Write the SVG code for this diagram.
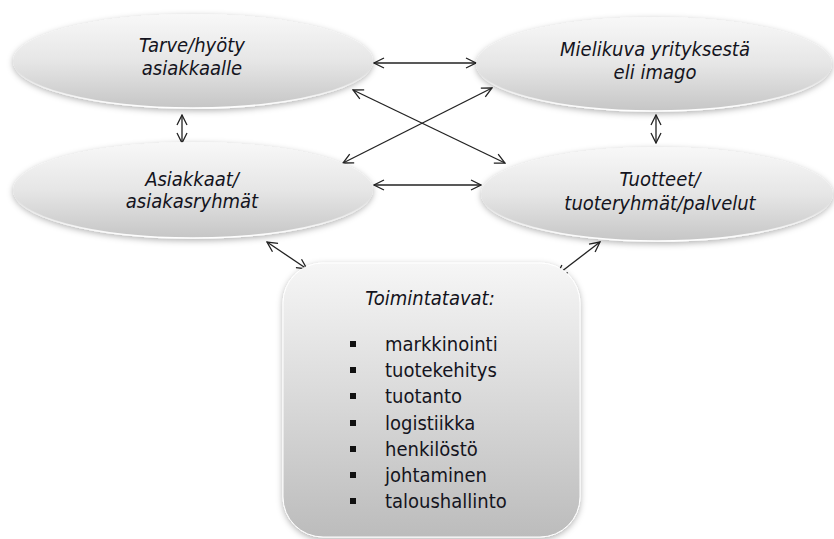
<svg xmlns="http://www.w3.org/2000/svg" width="834" height="539" viewBox="0 0 834 539">
<style>
.t{font-family:"DejaVu Sans Condensed","DejaVu Sans",sans-serif;font-size:20px;fill:#141420}
.i{font-style:italic;text-anchor:middle}
.ell{fill:url(#gEll);stroke:url(#gRim);stroke-width:1.5;filter:url(#sh)}
.box{fill:url(#gBox);stroke:#ffffff;stroke-width:1;filter:url(#sh)}
.c{fill:none;stroke:#222;stroke-width:1.3;marker-start:url(#ah);marker-end:url(#ah)}
.b{fill:#111}
</style>
<defs>
<linearGradient id="gEll" x1="0" y1="0" x2="0" y2="1">
<stop offset="0" stop-color="#f8f8f8"/>
<stop offset="0.5" stop-color="#e6e6e6"/>
<stop offset="1" stop-color="#c6c6c6"/>
</linearGradient>
<linearGradient id="gRim" x1="0" y1="0" x2="0" y2="1">
<stop offset="0" stop-color="#ffffff" stop-opacity="0"/>
<stop offset="0.6" stop-color="#ffffff" stop-opacity="0"/>
<stop offset="1" stop-color="#ffffff" stop-opacity="1"/>
</linearGradient>
<linearGradient id="gBox" x1="0" y1="0" x2="0" y2="1">
<stop offset="0" stop-color="#f6f6f6"/>
<stop offset="1" stop-color="#bcbcbc"/>
</linearGradient>
<filter id="sh" x="-10%" y="-20%" width="120%" height="140%">
<feDropShadow dx="0" dy="2" stdDeviation="3" flood-color="#000" flood-opacity="0.3"/>
</filter>
<marker id="ah" viewBox="0 0 12 12" refX="11" refY="6" markerWidth="12" markerHeight="12" markerUnits="userSpaceOnUse" orient="auto-start-reverse">
<path d="M1,1 L11,6 L1,11" fill="none" stroke="#222" stroke-width="1.3"/>
</marker>
</defs>
<g id="connectors">
<line class="c" x1="374" y1="63" x2="476" y2="63"/>
<line class="c" x1="374" y1="185" x2="481" y2="185"/>
<line class="c" x1="353" y1="90" x2="505" y2="163"/>
<line class="c" x1="343" y1="163" x2="492" y2="88"/>
<line class="c" x1="182" y1="115" x2="182" y2="143"/>
<line class="c" x1="656" y1="115" x2="656" y2="143"/>
<line class="c" x1="267" y1="242" x2="307" y2="269"/>
<line class="c" x1="600" y1="242" x2="557" y2="275"/>
</g>
<g id="tarve">
<ellipse class="ell" cx="193" cy="61" rx="180" ry="47"/>
<text class="t i" x="192" y="52">Tarve/hyöty</text>
<text class="t i" x="192" y="75">asiakkaalle</text>
</g>
<g id="mielikuva">
<ellipse class="ell" cx="654" cy="64" rx="178" ry="47"/>
<text class="t i" x="655" y="56">Mielikuva yrityksestä</text>
<text class="t i" x="655" y="79">eli imago</text>
</g>
<g id="asiakkaat">
<ellipse class="ell" cx="193" cy="190" rx="180" ry="48"/>
<text class="t i" x="192" y="186">Asiakkaat/</text>
<text class="t i" x="192" y="208">asiakasryhmät</text>
</g>
<g id="tuotteet">
<ellipse class="ell" cx="657" cy="194" rx="176" ry="47"/>
<text class="t i" x="660" y="186">Tuotteet/</text>
<text class="t i" x="660" y="210">tuoteryhmät/palvelut</text>
</g>
<g id="toimintatavat">
<rect class="box" x="283" y="263" width="297" height="274" rx="40" ry="40"/>
<text class="t i" x="430" y="305">Toimintatavat:</text>
<rect class="b" x="350" y="341" width="6" height="6"/>
<rect class="b" x="350" y="367" width="6" height="6"/>
<rect class="b" x="350" y="393" width="6" height="6"/>
<rect class="b" x="350" y="420" width="6" height="6"/>
<rect class="b" x="350" y="446" width="6" height="6"/>
<rect class="b" x="350" y="472" width="6" height="6"/>
<rect class="b" x="350" y="498" width="6" height="6"/>
<text class="t" x="385" y="351">markkinointi</text>
<text class="t" x="385" y="377">tuotekehitys</text>
<text class="t" x="385" y="403">tuotanto</text>
<text class="t" x="385" y="430">logistiikka</text>
<text class="t" x="385" y="456">henkilöstö</text>
<text class="t" x="385" y="482">johtaminen</text>
<text class="t" x="385" y="508">taloushallinto</text>
</g>
</svg>
